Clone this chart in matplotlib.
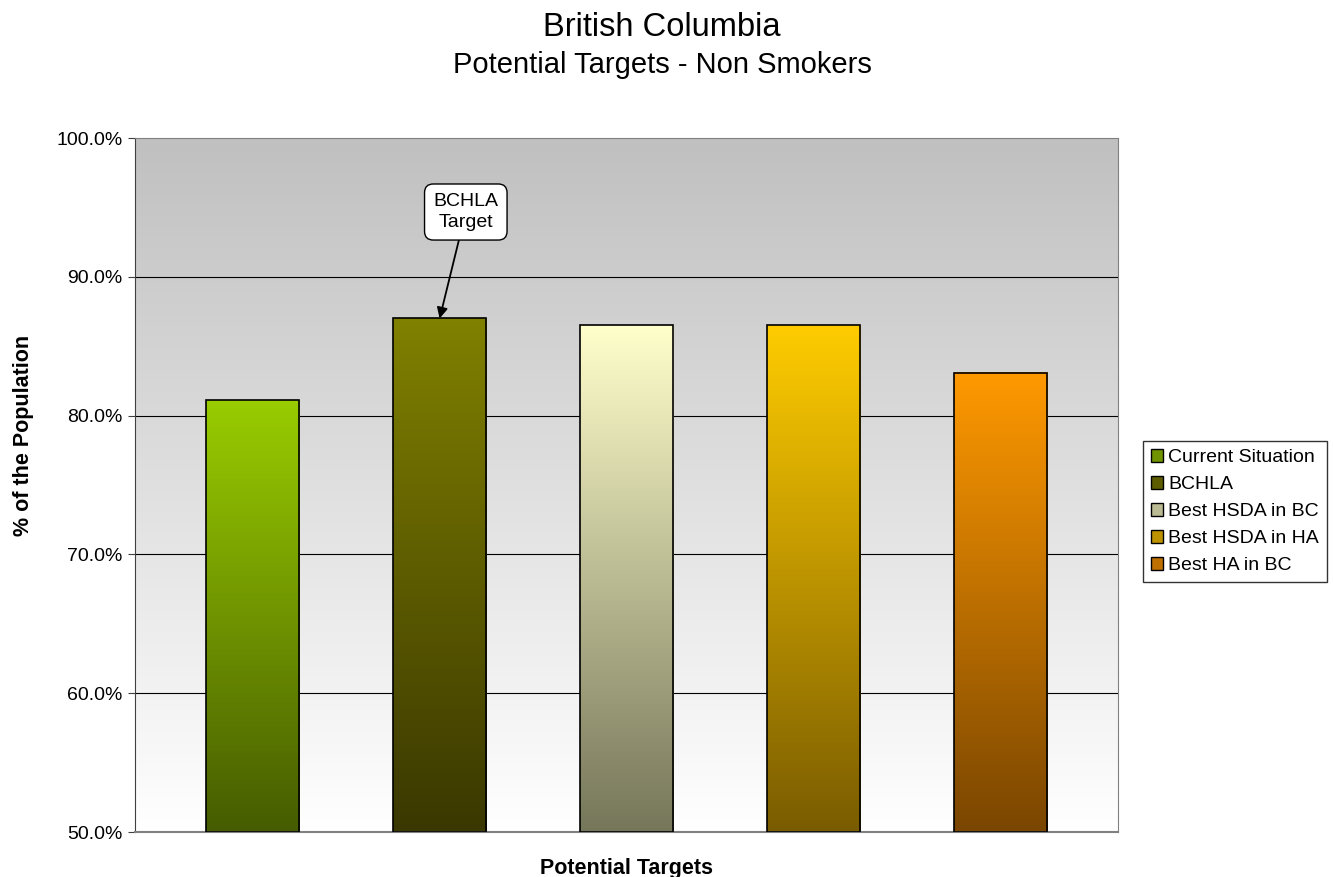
import numpy as np
import matplotlib
matplotlib.use('Agg')
from matplotlib import pyplot as plt
from matplotlib.colors import LinearSegmentedColormap, to_rgb
from matplotlib.patches import Patch

categories = ['Current Situation', 'BCHLA', 'Best HSDA in BC', 'Best HSDA in HA', 'Best HA in BC']
values = [81.1, 87.0, 86.5, 86.5, 83.1]
top_colors = ['#99CC00', '#808000', '#FFFFCC', '#FFCC00', '#FF9900']
bottom_colors = ['#465C00', '#3A3800', '#76765A', '#7A5C00', '#7A4600']
yticks = [50, 60, 70, 80, 90, 100]

plt.rcParams['font.family'] = ['Liberation Sans', 'DejaVu Sans']

fig = plt.figure(figsize=(13.33, 8.77), dpi=100)
ax = fig.add_axes([0.1013, 0.0513, 0.7374, 0.7913])

x = np.arange(len(categories))
width = 0.5
ax.set_xlim(-0.63, 4.63)
ax.set_ylim(50, 100)

# plot area background: grey at the top fading to white
bg = LinearSegmentedColormap.from_list('bg', ['#FFFFFF', '#C0C0C0'])
grad = np.linspace(0, 1, 256).reshape(-1, 1)
ax.imshow(grad, cmap=bg, origin='lower', aspect='auto',
          extent=[-0.63, 4.63, 50, 100], zorder=0)

for yv in yticks[1:-1]:
    ax.axhline(yv, color='#000000', lw=0.8, zorder=1)

# bars with a vertical gradient, top colour to bottom colour
for xi, v, ct, cb in zip(x, values, top_colors, bottom_colors):
    cm = LinearSegmentedColormap.from_list('b', [cb, ct])
    ax.imshow(grad, cmap=cm, origin='lower', aspect='auto',
              extent=[xi - width / 2, xi + width / 2, 50, v], zorder=2)
    ax.bar(xi, v - 50, width, bottom=50, facecolor='none',
           edgecolor='black', lw=1.2, zorder=3)

ax.set_yticks(yticks)
ax.set_yticklabels(['%.1f%%' % t for t in yticks], fontsize=14)
ax.set_xticks([])
ax.tick_params(axis='y', length=5, width=0.8, color='#404040', pad=4)
for s in ['top', 'right']:
    ax.spines[s].set_color('#808080')
ax.spines['left'].set_color('#404040')
ax.spines['bottom'].set_color('#808080')
ax.spines['bottom'].set_linewidth(1.5)

ax.set_ylabel('% of the Population', fontsize=15.5, fontweight='bold', va='center')
ax.yaxis.set_label_coords(-0.113, 0.571)
ax.set_xlabel('Potential Targets', fontsize=15.5, fontweight='bold', va='baseline')
ax.xaxis.set_label_coords(0.5, -0.061)

fig.text(0.4966, 0.959, 'British Columbia', ha='center', va='baseline', fontsize=23.5)
fig.text(0.4966, 0.9168, 'Potential Targets - Non Smokers', ha='center', va='baseline', fontsize=21)

ax.annotate('BCHLA\nTarget', xy=(1, values[1]), xytext=(1.14, 94.67),
            ha='center', va='center', fontsize=14, zorder=5, linespacing=1.35,
            bbox=dict(boxstyle='round,pad=0.45', fc='white', ec='black', lw=1),
            arrowprops=dict(arrowstyle='-|>', color='black', lw=1.3,
                            mutation_scale=16, shrinkA=0, shrinkB=0))

mid_colors = []
for ct, cb in zip(top_colors, bottom_colors):
    a, b = np.array(to_rgb(ct)), np.array(to_rgb(cb))
    mid_colors.append((a + b) / 2)
handles = [Patch(facecolor=c, edgecolor='black', lw=1) for c in mid_colors]
leg = fig.legend(handles, categories, loc='center left',
                 bbox_to_anchor=(0.8575, 0.417), fontsize=14, frameon=True,
                 fancybox=False, handlelength=0.65, handleheight=0.65,
                 handletextpad=0.25, borderpad=0.4, labelspacing=0.5,
                 borderaxespad=0)
leg.get_frame().set_edgecolor('black')
leg.get_frame().set_linewidth(1)

fig.savefig('out.png', dpi=100)
